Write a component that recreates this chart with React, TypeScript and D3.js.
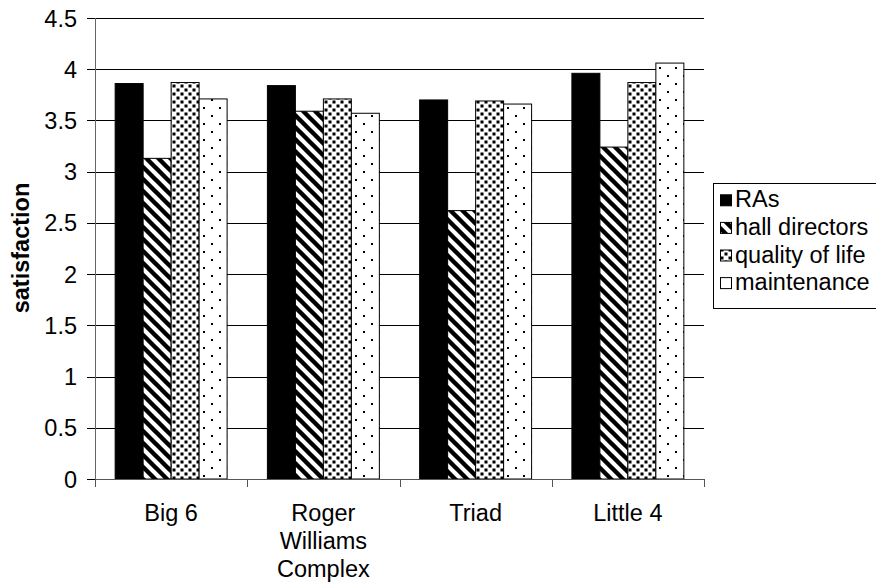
import React from "react";
import * as d3 from "d3";

const categoryLines: string[][] = [["Big 6"], ["Roger", "Williams", "Complex"], ["Triad"], ["Little 4"]];
const categories = ["Big 6", "Roger Williams Complex", "Triad", "Little 4"];
const seriesNames = ["RAs", "hall directors", "quality of life", "maintenance"];
const RAs = [3.86, 3.84, 3.7, 3.96];
const hallDirectors = [3.13, 3.59, 2.62, 3.24];
const qualityOfLife = [3.87, 3.71, 3.69, 3.87];
const maintenance = [3.71, 3.57, 3.66, 4.06];
const yTicks = [0, 0.5, 1, 1.5, 2, 2.5, 3, 3.5, 4, 4.5];
const yTickLabels = ["0", "0.5", "1", "1.5", "2", "2.5", "3", "3.5", "4", "4.5"];

const seriesValues = [RAs, hallDirectors, qualityOfLife, maintenance];
const fills = ["#000", "url(#pHD)", "url(#pQL)", "url(#pMT)"];

const W = 876;
const H = 584;
const FONT = "'Liberation Sans', Arial, Helvetica, sans-serif";
const FS = 23.5;

export default function App() {
  const left = 95, right = 704, top = 18, bottom = 479;
  const x = d3.scaleBand<string>().domain(categories).range([left, right]).padding(0);
  const xs = d3.scaleBand<string>().domain(seriesNames).range([0, x.bandwidth()]).paddingInner(0).paddingOuter(0.72);
  const y = d3.scaleLinear().domain([0, 4.5]).range([bottom, top]);

  const legendTop = 183;
  const legendStep = 27.6;

  return (
    <svg width={W} height={H} style={{ position: "absolute", left: 0, top: 0, background: "#fff" }} fontFamily={FONT}>
      <defs>
        <pattern id="pHD" patternUnits="userSpaceOnUse" width={12} height={12}>
          <rect width={12} height={12} fill="#fff" />
          <path d="M-3,-3 L15,15 M-3,9 L3,15 M9,-3 L15,3" stroke="#000" strokeWidth={4.4} />
        </pattern>
        <pattern id="pQL" patternUnits="userSpaceOnUse" width={8} height={8}>
          <rect width={8} height={8} fill="#fff" />
          <rect x={0.5} y={0.5} width={3} height={3} fill="#000" />
          <rect x={4.5} y={4.5} width={3} height={3} fill="#000" />
        </pattern>
        <pattern id="pMT" patternUnits="userSpaceOnUse" width={16} height={16}>
          <rect width={16} height={16} fill="#fff" />
          <rect x={3} y={3} width={2} height={2} fill="#000" />
          <rect x={11} y={11} width={2} height={2} fill="#000" />
        </pattern>
      </defs>
      <rect width={W} height={H} fill="#fff" />

      {/* gridlines */}
      {yTicks.filter((t) => t > 0).map((t) => (
        <line key={"g" + t} x1={left} x2={right} y1={Math.round(y(t)) + 0.5} y2={Math.round(y(t)) + 0.5} stroke="#000" strokeWidth={1} />
      ))}

      {/* bars */}
      {categories.map((c, ci) => (
        <g key={c}>
          {seriesNames.map((s, si) => {
            const v = seriesValues[si][ci];
            const bx = (x(c) as number) + (xs(s) as number);
            return (
              <rect
                key={s}
                x={bx}
                y={y(v)}
                width={xs.bandwidth()}
                height={y(0) - y(v)}
                fill={fills[si]}
                stroke="#000"
                strokeWidth={1}
              />
            );
          })}
        </g>
      ))}

      {/* y axis */}
      <line x1={left + 0.5} x2={left + 0.5} y1={top} y2={bottom} stroke="#666" strokeWidth={1} />
      {yTicks.map((t, i) => (
        <g key={"t" + t}>
          <line x1={left - 8} x2={left} y1={Math.round(y(t)) + 0.5} y2={Math.round(y(t)) + 0.5} stroke="#000" />
          <text x={77} y={y(t) + 8.5} textAnchor="end" fontSize={FS} fill="#000">
            {yTickLabels[i]}
          </text>
        </g>
      ))}
      <text
        transform={`translate(${29},${248}) rotate(-90)`}
        textAnchor="middle"
        fontSize={FS}
        fontWeight="bold"
        fill="#000"
      >
        satisfaction
      </text>

      {/* x axis */}
      <line x1={left} x2={right} y1={bottom + 0.5} y2={bottom + 0.5} stroke="#555" />
      {[...categories.map((c) => x(c) as number), right].map((px, i) => (
        <line key={"xt" + i} x1={Math.round(px) + 0.5} x2={Math.round(px) + 0.5} y1={bottom} y2={bottom + 8} stroke="#555" />
      ))}
      {categories.map((c, ci) => (
        <text key={"xl" + c} textAnchor="middle" fontSize={FS} fill="#000">
          {categoryLines[ci].map((ln, li) => (
            <tspan key={li} x={(x(c) as number) + x.bandwidth() / 2} y={521 + li * 28}>
              {ln}
            </tspan>
          ))}
        </text>
      ))}

      {/* legend */}
      <rect x={713.5} y={legendTop + 0.5} width={200} height={125} fill="#fff" stroke="#000" />
      {seriesNames.map((s, si) => {
        const base = 207.3 + si * legendStep;
        return (
          <g key={"lg" + s}>
            <rect x={720.5} y={base - 12.5} width={11} height={11} fill={fills[si]} stroke="#000" />
            <text x={735} y={base} fontSize={FS} fill="#000">
              {s}
            </text>
          </g>
        );
      })}
    </svg>
  );
}
